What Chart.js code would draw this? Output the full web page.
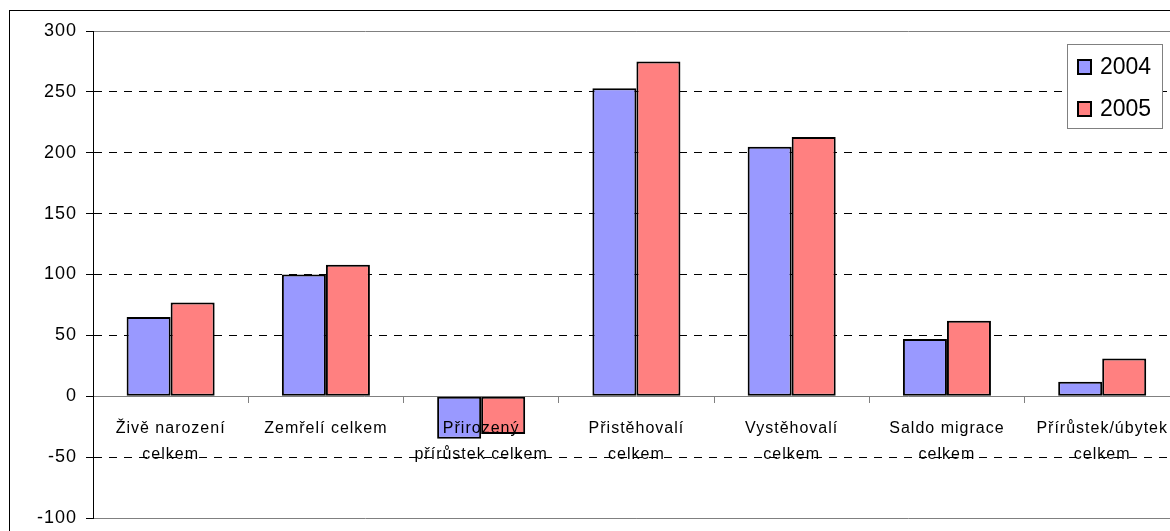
<!DOCTYPE html>
<html>
<head>
<meta charset="utf-8">
<script src="https://cdn.jsdelivr.net/npm/chart.js@4/dist/chart.umd.min.js"></script>
<style>
  html, body { margin: 0; padding: 0; background: #fff; overflow: hidden; width: 1170px; height: 531px; }
  #wrap { position: relative; width: 1181px; height: 531px; }
</style>
</head>
<body>
<div id="wrap"><canvas id="c"></canvas></div>
<script>
// Pohyb obyvatelstva 2004 / 2005
const categories = [
  ['Živě narození', 'celkem'],
  ['Zemřelí celkem'],
  ['Přirozený', 'přírůstek celkem'],
  ['Přistěhovalí', 'celkem'],
  ['Vystěhovalí', 'celkem'],
  ['Saldo migrace', 'celkem'],
  ['Přírůstek/úbytek', 'celkem']
];
const years = ['2004', '2005'];
const values2004 = [65, 100, -35, 253, 205, 47, 12];
const values2005 = [77, 108, -31, 275, 213, 62, 31];
const yTicks = [-100, -50, 0, 50, 100, 150, 200, 250, 300];

const FONT = "'Liberation Sans', Arial, sans-serif";

// trochu rozšířené písmo jako v Excelu
const spacing = {
  id: 'spacing',
  beforeLayout(chart) { chart.ctx.letterSpacing = '1px'; },
  beforeDraw(chart) { chart.ctx.letterSpacing = '1px'; }
};

// vnější rámeček grafu
const frame = {
  id: 'frame',
  beforeDraw(chart) {
    const ctx = chart.ctx;
    ctx.save();
    ctx.strokeStyle = '#000';
    ctx.lineWidth = 1;
    ctx.strokeRect(9.5, 10.5, 1300, 600);
    ctx.restore();
  }
};

// legenda v rámečku vpravo nahoře
const boxLegend = {
  id: 'boxLegend',
  afterDraw(chart) {
    const ctx = chart.ctx;
    ctx.save();
    ctx.letterSpacing = '0px';
    ctx.fillStyle = '#fff';
    ctx.fillRect(1067, 44, 95, 84);
    ctx.strokeStyle = '#808080';
    ctx.lineWidth = 1;
    ctx.strokeRect(1067.5, 44.5, 95, 84);
    ctx.font = '23px ' + FONT;
    ctx.textBaseline = 'middle';
    chart.data.datasets.forEach((ds, i) => {
      const y = 67 + i * 42;
      ctx.fillStyle = ds.backgroundColor;
      ctx.fillRect(1078, y - 7, 13, 14);
      ctx.strokeStyle = '#000';
      ctx.lineWidth = 2;
      ctx.strokeRect(1078, y - 7, 13, 14);
      ctx.fillStyle = '#000';
      ctx.fillText(ds.label, 1100, y + 1);
    });
    ctx.restore();
  }
};

new Chart(document.getElementById('c'), {
  type: 'bar',
  data: {
    labels: categories,
    datasets: [
      { label: years[0], data: values2004, backgroundColor: '#9999FF', borderColor: '#000', borderWidth: 2, borderSkipped: false },
      { label: years[1], data: values2005, backgroundColor: '#FF8080', borderColor: '#000', borderWidth: 2, borderSkipped: false }
    ]
  },
  options: {
    responsive: true,
    maintainAspectRatio: false,
    animation: false,
    layout: { padding: { top: 31, bottom: 13, left: 0, right: 0 } },
    datasets: { bar: { categoryPercentage: 0.567, barPercentage: 1 } },
    plugins: { legend: { display: false }, tooltip: { enabled: false } },
    scales: {
      x: {
        position: { y: 0 },
        afterFit(scale) { scale.height = 0; },
        grid: { drawOnChartArea: false, drawTicks: true, tickLength: 6, color: '#808080' },
        border: { display: true, color: '#808080', width: 1 },
        ticks: {
          z: 1,
          autoSkip: false, maxRotation: 0, minRotation: 0, padding: 13,
          color: '#000', font: { family: FONT, size: 16, lineHeight: 1.62 }
        }
      },
      y: {
        min: -100, max: 300,
        afterFit(scale) { scale.width = 93; scale.paddingBottom = 0; },
        afterBuildTicks(scale) { scale.ticks = yTicks.map(v => ({ value: v })); },
        grid: {
          color: ctx => {
            const v = ctx.tick ? ctx.tick.value : null;
            if (v === 0) return 'rgba(0,0,0,0)';
            if (v === 300 || v === -100) return '#808080';
            return '#000';
          },
          tickColor: '#000',
          tickLength: 7,
          lineWidth: 1
        },
        border: {
          display: true, color: '#000', width: 1,
          dash: ctx => {
            const v = ctx.tick ? ctx.tick.value : null;
            return (v === 300 || v === -100 || v === null) ? [] : [8, 7];
          }
        },
        ticks: { padding: 9, color: '#000', font: { family: FONT, size: 18 } }
      }
    }
  },
  plugins: [spacing, frame, boxLegend]
});
</script>
</body>
</html>
